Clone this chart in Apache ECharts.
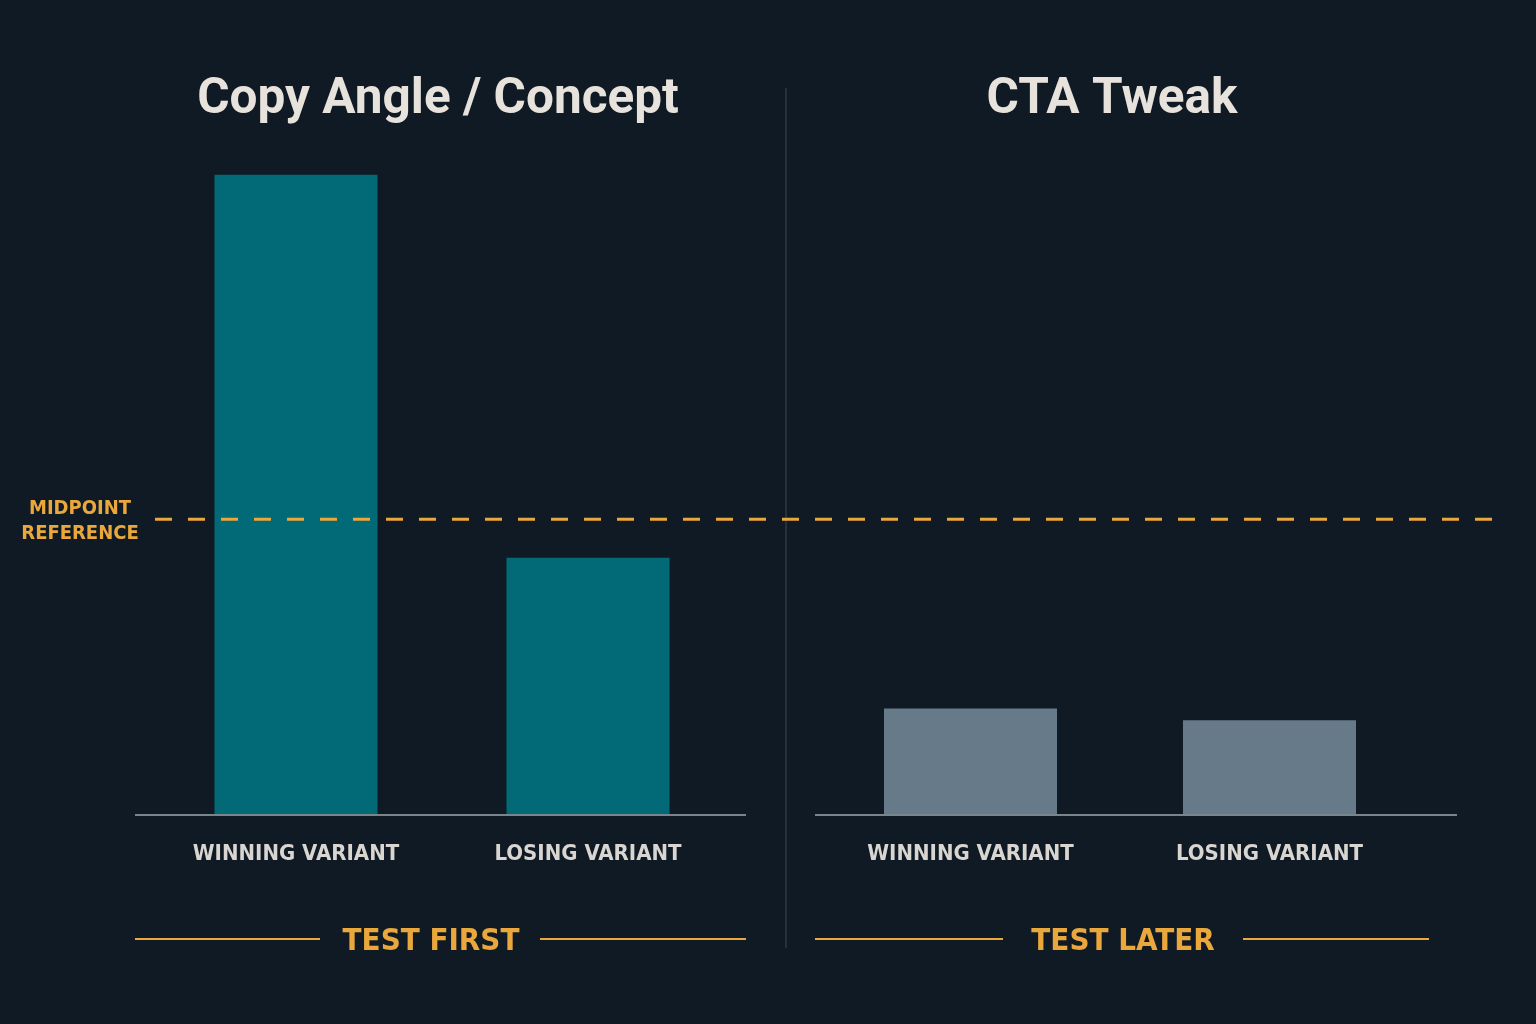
<!DOCTYPE html>
<html><head><meta charset="utf-8">
<script src="https://cdn.jsdelivr.net/npm/echarts@6/dist/echarts.min.js"></script>
<style>html,body{margin:0;padding:0;background:#0f1a24;}#c{width:1536px;height:1024px;}</style>
</head><body><div id="c"></div>
<script>
const categories = ['WINNING VARIANT', 'LOSING VARIANT'];
const copyAngleValues = [108.2, 43.5];
const ctaTweakValues = [18, 16];
const midpointValue = 50;
const panelTitles = ['Copy Angle / Concept', 'CTA Tweak'];
const sectionLabels = ['TEST FIRST', 'TEST LATER'];
const refLabel = 'MIDPOINT\nREFERENCE';

const ORANGE = '#eaa73c';
const condensed = '"DejaVu Sans Condensed", Roboto, sans-serif';
const chart = echarts.init(document.getElementById('c'));
const yCommon = {type: 'value', min: 0, max: 120, show: false};
const xCat = (gi) => ({
  type: 'category', gridIndex: gi, data: categories,
  axisLine: {show: false}, axisTick: {show: false},
  axisLabel: {interval: 0, color: '#d9d6d2', fontSize: 22, fontWeight: 'bold', fontFamily: condensed, margin: 28}
});
chart.setOption({
  backgroundColor: '#0f1a24',
  animation: false,
  title: [
    {text: panelTitles[0], left: 433, top: 71, textAlign: 'center',
     textStyle: {color: '#e8e2dc', fontSize: 49.5, fontWeight: 'bold', fontFamily: 'Roboto, sans-serif'}},
    {text: panelTitles[1], left: 1107, top: 71, textAlign: 'center',
     textStyle: {color: '#e8e2dc', fontSize: 49.5, fontWeight: 'bold', fontFamily: 'Roboto, sans-serif'}},
    {text: sectionLabels[0], left: 426, top: 921, textAlign: 'center',
     textStyle: {color: ORANGE, fontSize: 31, fontWeight: 'bold', fontFamily: condensed}},
    {text: sectionLabels[1], left: 1118, top: 921, textAlign: 'center',
     textStyle: {color: ORANGE, fontSize: 31, fontWeight: 'bold', fontFamily: condensed}},
    {text: refLabel, left: 75, top: 491, textAlign: 'center',
     textStyle: {color: ORANGE, fontSize: 20, fontWeight: 'bold', fontFamily: condensed, lineHeight: 25}}
  ],
  grid: [
    {left: 150, width: 584, top: 105, height: 710},
    {left: 821, width: 598, top: 105, height: 710},
    {left: 155, width: 1345, top: 105, height: 710}
  ],
  xAxis: [xCat(0), xCat(1), {type: 'value', gridIndex: 2, min: 0, max: 1, show: false}],
  yAxis: [
    Object.assign({gridIndex: 0}, yCommon),
    Object.assign({gridIndex: 1}, yCommon),
    Object.assign({gridIndex: 2}, yCommon)
  ],
  graphic: [
    {type: 'line', shape: {x1: 786, y1: 88, x2: 786, y2: 948}, style: {stroke: '#3c4a55', lineWidth: 1}, z: 0},
    {type: 'line', shape: {x1: 135, y1: 815, x2: 746, y2: 815}, style: {stroke: '#7a848b', lineWidth: 2}, z: 10},
    {type: 'line', shape: {x1: 815, y1: 815, x2: 1457, y2: 815}, style: {stroke: '#7a848b', lineWidth: 2}, z: 10},
    {type: 'line', shape: {x1: 135, y1: 939, x2: 320, y2: 939}, style: {stroke: ORANGE, lineWidth: 2}},
    {type: 'line', shape: {x1: 540, y1: 939, x2: 746, y2: 939}, style: {stroke: ORANGE, lineWidth: 2}},
    {type: 'line', shape: {x1: 815, y1: 939, x2: 1003, y2: 939}, style: {stroke: ORANGE, lineWidth: 2}},
    {type: 'line', shape: {x1: 1243, y1: 939, x2: 1429, y2: 939}, style: {stroke: ORANGE, lineWidth: 2}}
  ],
  series: [
    {type: 'bar', xAxisIndex: 0, yAxisIndex: 0, data: copyAngleValues, barWidth: 163,
     itemStyle: {color: '#016a76'}, z: 2},
    {type: 'bar', xAxisIndex: 1, yAxisIndex: 1, data: ctaTweakValues, barWidth: 173,
     itemStyle: {color: '#677a8a'}, z: 2},
    {type: 'line', xAxisIndex: 2, yAxisIndex: 2, data: [[0, midpointValue], [1, midpointValue]],
     symbol: 'none', lineStyle: {color: ORANGE, width: 3, type: [17, 16]}, z: 5}
  ]
});
</script></body></html>
